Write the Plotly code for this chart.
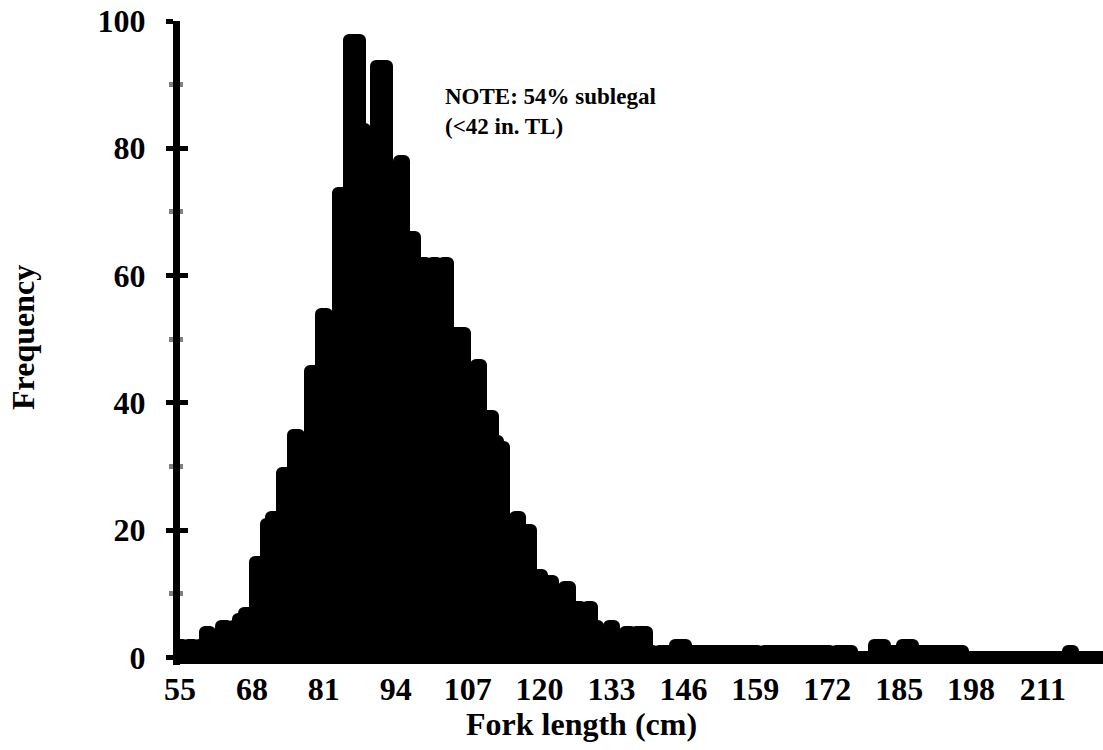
import plotly.graph_objects as go

# Fork length categories (cm) and frequencies
lengths = list(range(55, 223))
freq = (
    [2, 1, 2, 1, 2, 4, 3, 3, 5, 4,          # 55-64
     5, 6, 7, 5, 15, 11, 21, 22, 17, 29,    # 65-74
     24, 35, 30, 33, 45, 40, 54, 48, 51, 73,  # 75-84
     66, 97, 97, 83, 80, 78, 93, 93, 74, 70,  # 85-94
     78, 60, 66, 56, 62, 55, 62, 58, 62, 48,  # 95-104
     51, 51, 42, 44, 46, 33, 38, 34, 33, 20,  # 105-114
     21, 22, 17, 20, 11, 13, 10, 12, 9, 10,   # 115-124
     11, 7, 8, 7, 8, 5, 3, 4, 5, 3,           # 125-134
     2, 4, 3, 4, 4, 1, 0, 1, 1, 1,            # 135-144
     2, 2, 1, 1, 1, 1, 1, 1, 1, 1,            # 145-154
     1, 1, 1, 1, 1, 0, 1, 1, 1, 1,            # 155-164
     1, 1, 1, 1, 1, 1, 1, 1, 0, 1,            # 165-174
     1, 1, 0, 0, 0, 0, 2, 2, 1, 1,            # 175-184
     1, 2, 2, 1, 1, 1, 1, 1, 1, 1,            # 185-194
     1, 1, 0, 0, 0, 0, 0, 0, 0, 0,            # 195-204
     0, 0, 0, 0, 0, 0, 0, 0, 0, 0,            # 205-214
     0, 1, 0, 0, 0, 0, 0, 0]                  # 215-222
)
x_tick_vals = [55, 68, 81, 94, 107, 120, 133, 146, 159, 172, 185, 198, 211]
y_tick_vals = [0, 20, 40, 60, 80, 100]

FONT = "Liberation Serif"
tick_font = dict(family=FONT, size=32, color="black", weight="bold")

fig = go.Figure()
fig.add_trace(go.Bar(
    x=lengths, y=freq, width=1,
    marker=dict(color="black", line=dict(color="black", width=12)),
    hoverinfo="skip", showlegend=False,
))
# empty trace to carry the overlay axis used for inward tick marks
fig.add_trace(go.Scatter(x=[], y=[], yaxis="y2", showlegend=False, hoverinfo="skip"))

fig.update_layout(
    width=1103, height=750,
    margin=dict(l=180, r=0, t=21, b=85),
    paper_bgcolor="white", plot_bgcolor="white",
    bargap=0,
    font=dict(family=FONT, color="black"),
    xaxis=dict(
        range=[55, 221.85], showgrid=False, zeroline=False, showline=False,
        tickmode="array", tickvals=x_tick_vals, ticktext=[str(v) for v in x_tick_vals],
        ticks="", tickfont=tick_font,
        ticklabelstandoff=2, automargin=False, fixedrange=True,
    ),
    yaxis=dict(
        range=[-1.19, 100], showgrid=False,
        zeroline=True, zerolinecolor="black", zerolinewidth=13,
        showline=True, linecolor="black", linewidth=7,
        tickmode="array", tickvals=y_tick_vals,
        ticks="outside", ticklen=7, tickwidth=4.5, tickcolor="black",
        minor=dict(dtick=10, tick0=0, ticks="outside", ticklen=4, tickwidth=4.5,
                   tickcolor="#808080", showgrid=False),
        tickfont=tick_font,
        ticklabelstandoff=14, automargin=False, fixedrange=True,
    ),
    yaxis2=dict(
        overlaying="y", side="left", range=[-1.19, 100], showgrid=False,
        zeroline=False, showline=True, linecolor="black", linewidth=7,
        tickmode="array", tickvals=y_tick_vals, showticklabels=False,
        ticks="inside", ticklen=8, tickwidth=4.5, tickcolor="black",
        minor=dict(dtick=10, tick0=0, ticks="inside", ticklen=3, tickwidth=4.5,
                   tickcolor="#808080", showgrid=False),
        automargin=False, fixedrange=True,
    ),
    annotations=[
        dict(text="<b>Fork length (cm)</b>", xref="paper", yref="paper",
             x=0.435, y=-0.0916, xanchor="center", yanchor="middle",
             showarrow=False, font=dict(family=FONT, size=32, color="black")),
        dict(text="<b>Frequency</b>", xref="paper", yref="paper",
             x=-0.17, y=0.508, xanchor="center", yanchor="middle", textangle=-90,
             showarrow=False, font=dict(family=FONT, size=32, color="black")),
        dict(text="<b>NOTE: 54% sublegal<br>(<42 in. TL)</b>", xref="paper", yref="paper",
             x=0.285, y=0.860, xanchor="left", yanchor="middle", align="left",
             showarrow=False, font=dict(family=FONT, size=23, color="black")),
    ],
)

round_joins = (
    "document.querySelectorAll('.barlayer path').forEach(function(p){"
    "p.style.strokeLinejoin='round';});"
)
fig.write_html("out.html", config={"displayModeBar": False}, post_script=round_joins)
